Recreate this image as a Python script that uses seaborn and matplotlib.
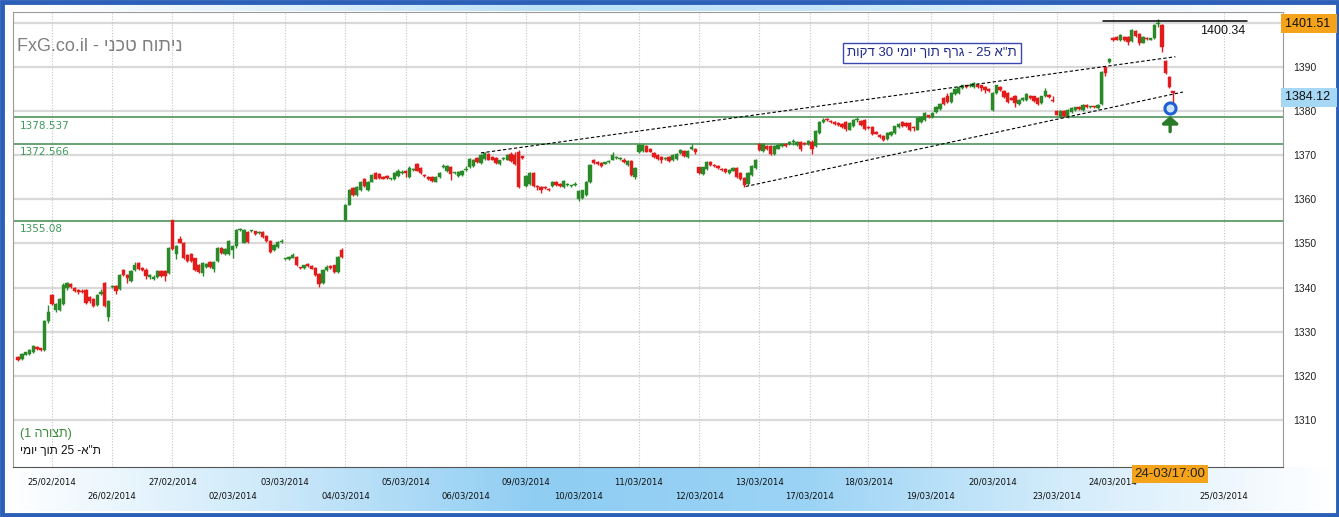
import re
import numpy as np
import matplotlib
matplotlib.use("Agg")
import matplotlib.pyplot as plt
import matplotlib.transforms as mtrans
from matplotlib.colors import LinearSegmentedColormap
from matplotlib.patches import Rectangle
import seaborn as sns

# 30-minute TA-25 candles (index = bar number)
opens = [
    1324.2, 1323.8, 1324.8, 1325.0, 1325.3, 1326.6, 1326.2, 1325.8, 1332.4, 1338.3,
    1334.8, 1335.0, 1336.2, 1339.8, 1340.8, 1339.9, 1339.4, 1339.3, 1339.4, 1337.8,
    1337.4, 1336.0, 1338.5, 1341.0, 1333.4, 1340.2, 1340.3, 1339.6, 1344.0, 1342.8,
    1341.5, 1344.0, 1345.6, 1344.4, 1344.0, 1342.4, 1342.0, 1342.4, 1343.8, 1343.8,
    1343.2, 1355.3, 1347.6, 1351.0, 1350.2, 1347.4, 1347.6, 1346.6, 1345.2, 1343.2,
    1344.6, 1345.7, 1344.2, 1346.0, 1349.0, 1347.6, 1347.6, 1348.5, 1349.3, 1353.0,
    1350.2, 1352.5, 1352.7, 1352.7, 1352.3, 1352.6, 1351.6, 1350.6, 1348.5, 1349.2,
    1350.4, 1346.4, 1346.4, 1346.8, 1347.0, 1344.5, 1344.4, 1345.3, 1344.9, 1344.5,
    1343.0, 1341.0, 1344.0, 1344.8, 1345.0, 1343.5, 1348.5, 1355.3, 1358.8, 1362.5,
    1361.0, 1362.0, 1364.6, 1362.0, 1364.0, 1366.0, 1365.7, 1365.1, 1365.2, 1364.5,
    1364.5, 1365.3, 1366.0, 1366.5, 1365.0, 1366.6, 1368.0, 1367.0, 1365.5, 1365.0,
    1365.0, 1364.0, 1365.0, 1367.3, 1366.3, 1367.3, 1365.9, 1365.2, 1365.5, 1366.6,
    1367.2, 1367.5, 1369.3, 1368.3, 1369.2, 1370.2, 1369.5, 1369.3, 1367.9, 1369.2,
    1369.0, 1370.2, 1370.0, 1370.8, 1369.7, 1363.0, 1363.5, 1366.0, 1363.0, 1362.8,
    1362.7, 1362.3, 1363.0, 1364.0, 1363.5, 1362.8, 1363.3, 1363.0, 1363.2, 1360.0,
    1360.2, 1361.0, 1363.8, 1369.0, 1368.5, 1368.3, 1368.1, 1368.4, 1369.0, 1369.4,
    1369.2, 1369.0, 1367.7, 1368.7, 1365.0, 1370.6, 1371.0, 1372.0, 1371.5, 1370.5,
    1370.0, 1369.6, 1369.1, 1369.5, 1368.8, 1369.2, 1370.5, 1371.0, 1369.5, 1371.4,
    1371.5, 1367.2, 1365.8, 1366.8, 1368.5, 1367.8, 1367.5, 1366.9, 1366.8, 1366.0,
    1366.5, 1367.0, 1366.0, 1364.8, 1363.5, 1365.5, 1367.0, 1372.5, 1371.0, 1372.0,
    1372.0, 1370.2, 1371.5, 1372.0, 1372.6, 1372.5, 1373.0, 1372.3, 1373.0, 1372.8,
    1372.5, 1373.0, 1372.0, 1375.0, 1377.5, 1378.2, 1377.8, 1377.5, 1377.3, 1377.0,
    1377.5, 1375.8, 1376.5, 1377.9, 1377.8, 1378.0, 1376.4, 1376.3, 1375.2, 1374.5,
    1374.3, 1373.7, 1374.5, 1375.0, 1376.3, 1377.5, 1377.3, 1377.3, 1376.4, 1375.8,
    1377.5, 1378.0, 1379.0, 1378.7, 1379.7, 1380.5, 1383.0, 1383.5, 1382.0, 1383.8,
    1384.0, 1385.2, 1385.8, 1385.7, 1385.5, 1386.0, 1385.8, 1385.5, 1385.0, 1380.2,
    1384.0, 1385.5, 1384.5, 1384.0, 1383.0, 1383.5, 1381.5, 1382.5, 1382.5, 1383.5,
    1383.3, 1383.0, 1381.8, 1383.3, 1383.6, 1382.6, 1380.0, 1378.7, 1380.0, 1378.8,
    1379.8, 1380.3, 1381.0, 1380.2, 1381.3, 1380.9, 1381.0, 1380.7, 1381.5, 1390.0,
    1391.0, 1396.5, 1396.8, 1396.0, 1396.8, 1396.7, 1395.8, 1398.2, 1397.5, 1395.5,
    1396.5, 1396.2, 1396.5, 1399.8, 1399.4, 1391.3, 1387.8, 1384.5,
]
closes = [
    1323.6, 1325.0, 1325.3, 1325.8, 1326.8, 1326.0, 1325.8, 1332.4, 1334.5, 1336.2,
    1336.3, 1337.3, 1340.6, 1341.0, 1340.2, 1339.2, 1338.9, 1339.0, 1336.5, 1336.9,
    1335.8, 1338.3, 1339.0, 1335.8, 1337.0, 1340.3, 1339.2, 1342.8, 1342.9, 1342.2,
    1343.8, 1345.0, 1344.2, 1344.0, 1342.6, 1342.8, 1342.3, 1343.8, 1342.5, 1342.6,
    1349.0, 1348.7, 1349.4, 1350.2, 1346.6, 1346.0, 1346.0, 1344.0, 1343.6, 1345.6,
    1345.4, 1344.6, 1345.8, 1349.0, 1347.8, 1348.7, 1350.5, 1349.3, 1353.0, 1353.3,
    1353.0, 1350.3, 1352.9, 1352.2, 1352.5, 1351.4, 1350.5, 1348.0, 1349.6, 1350.3,
    1350.6, 1346.6, 1347.0, 1347.3, 1345.0, 1344.4, 1345.0, 1344.8, 1344.3, 1342.8,
    1340.9, 1344.0, 1344.7, 1344.4, 1343.5, 1347.0, 1347.0, 1358.8, 1362.0, 1361.0,
    1362.8, 1364.0, 1363.0, 1364.0, 1365.5, 1364.7, 1364.9, 1364.7, 1364.9, 1364.6,
    1366.0, 1366.3, 1366.1, 1366.0, 1367.0, 1366.8, 1366.5, 1366.0, 1365.2, 1364.5,
    1364.2, 1365.0, 1366.0, 1367.5, 1367.5, 1365.8, 1366.0, 1366.2, 1366.5, 1366.8,
    1369.2, 1369.0, 1368.5, 1370.0, 1370.5, 1369.0, 1369.0, 1368.3, 1368.8, 1369.3,
    1370.0, 1368.6, 1367.9, 1362.7, 1369.4, 1365.3, 1366.0, 1363.0, 1362.7, 1362.2,
    1362.5, 1362.1, 1364.0, 1363.3, 1363.0, 1364.2, 1363.5, 1363.1, 1363.4, 1361.9,
    1362.0, 1364.0, 1367.8, 1368.3, 1368.0, 1367.6, 1368.3, 1368.6, 1370.0, 1369.6,
    1369.4, 1368.5, 1368.7, 1365.5, 1367.0, 1372.4, 1372.4, 1370.8, 1370.8, 1369.5,
    1369.1, 1368.8, 1369.3, 1368.6, 1370.0, 1370.3, 1371.2, 1369.7, 1371.0, 1371.8,
    1370.6, 1366.0, 1367.2, 1368.5, 1367.8, 1367.5, 1367.0, 1366.7, 1366.2, 1366.6,
    1367.0, 1365.0, 1364.5, 1363.2, 1366.0, 1367.5, 1369.0, 1371.2, 1372.5, 1371.3,
    1370.2, 1372.0, 1372.3, 1372.5, 1372.0, 1373.0, 1373.2, 1373.0, 1371.5, 1372.6,
    1373.3, 1371.5, 1375.5, 1377.5, 1378.0, 1377.9, 1377.4, 1377.1, 1376.9, 1376.3,
    1376.0, 1377.3, 1378.0, 1378.1, 1376.8, 1376.0, 1376.1, 1374.8, 1374.9, 1374.0,
    1373.5, 1375.0, 1375.3, 1376.5, 1377.0, 1376.5, 1376.5, 1375.7, 1376.1, 1378.5,
    1378.6, 1379.5, 1378.7, 1379.5, 1381.0, 1381.6, 1381.5, 1382.0, 1384.0, 1385.0,
    1385.5, 1385.8, 1385.4, 1385.9, 1386.3, 1385.5, 1385.2, 1384.8, 1384.6, 1384.0,
    1385.8, 1384.8, 1383.2, 1382.0, 1382.6, 1381.8, 1382.6, 1383.0, 1383.8, 1383.0,
    1382.3, 1381.5, 1383.3, 1384.5, 1383.2, 1382.3, 1379.2, 1380.0, 1378.8, 1380.2,
    1380.7, 1380.8, 1380.4, 1381.3, 1380.8, 1381.0, 1380.8, 1381.3, 1388.8, 1388.6,
    1391.8, 1396.0, 1396.2, 1397.2, 1396.0, 1395.6, 1398.3, 1397.0, 1395.5, 1396.8,
    1396.3, 1396.4, 1399.5, 1400.0, 1394.5, 1388.5, 1385.5, 1384.1,
]
highs = [
    1324.4, 1325.2, 1325.5, 1326.0, 1327.0, 1326.8, 1326.4, 1332.6, 1336.0, 1338.5,
    1336.6, 1337.6, 1341.0, 1341.2, 1341.0, 1340.1, 1339.6, 1339.6, 1339.7, 1338.0,
    1337.6, 1338.5, 1339.6, 1341.2, 1337.2, 1340.6, 1340.5, 1343.0, 1344.2, 1343.0,
    1344.0, 1345.8, 1345.8, 1344.6, 1344.4, 1343.0, 1342.8, 1344.0, 1344.0, 1344.0,
    1349.2, 1355.4, 1349.6, 1351.6, 1350.4, 1347.6, 1347.8, 1346.8, 1345.4, 1345.8,
    1345.6, 1345.9, 1346.0, 1349.2, 1349.2, 1349.0, 1350.7, 1349.6, 1353.2, 1353.6,
    1353.2, 1352.7, 1353.1, 1352.9, 1352.8, 1352.8, 1351.8, 1350.8, 1349.8, 1350.5,
    1350.9, 1346.8, 1347.2, 1347.8, 1347.2, 1344.6, 1345.2, 1345.5, 1345.1, 1344.7,
    1343.2, 1344.2, 1345.0, 1345.0, 1345.2, 1347.2, 1349.0, 1359.0, 1362.3, 1362.8,
    1363.0, 1364.2, 1364.8, 1364.2, 1365.7, 1366.2, 1365.9, 1365.3, 1365.4, 1364.8,
    1366.2, 1366.8, 1366.6, 1366.7, 1367.5, 1367.0, 1368.2, 1367.2, 1365.7, 1365.2,
    1365.2, 1365.2, 1366.2, 1368.0, 1367.7, 1367.5, 1366.2, 1366.4, 1366.7, 1367.6,
    1369.4, 1369.2, 1369.5, 1370.2, 1370.7, 1370.4, 1369.7, 1369.5, 1369.0, 1369.5,
    1370.2, 1370.6, 1370.6, 1371.2, 1369.9, 1365.5, 1366.2, 1366.2, 1363.2, 1363.0,
    1362.9, 1362.5, 1364.2, 1364.2, 1363.7, 1364.4, 1363.7, 1363.3, 1363.8, 1362.1,
    1362.2, 1364.2, 1368.0, 1369.2, 1368.7, 1368.5, 1368.5, 1368.8, 1370.6, 1369.8,
    1369.6, 1369.4, 1368.9, 1368.9, 1367.2, 1372.6, 1372.6, 1372.2, 1371.7, 1370.7,
    1370.2, 1369.8, 1369.5, 1369.7, 1370.2, 1370.5, 1371.4, 1371.2, 1371.2, 1372.6,
    1371.7, 1367.4, 1367.4, 1368.7, 1368.7, 1368.0, 1367.7, 1367.1, 1367.0, 1366.8,
    1367.2, 1367.2, 1366.2, 1365.0, 1366.2, 1367.7, 1369.2, 1372.7, 1372.7, 1372.2,
    1372.2, 1372.2, 1372.5, 1372.7, 1372.8, 1373.2, 1373.7, 1373.2, 1373.2, 1373.0,
    1373.5, 1373.5, 1375.7, 1377.7, 1378.3, 1378.4, 1378.0, 1377.7, 1377.5, 1377.2,
    1377.7, 1377.5, 1378.2, 1378.6, 1378.0, 1378.2, 1376.6, 1376.5, 1375.4, 1374.7,
    1374.5, 1375.2, 1375.5, 1376.7, 1377.2, 1377.7, 1377.5, 1377.5, 1376.6, 1378.7,
    1378.8, 1379.7, 1379.2, 1379.8, 1381.2, 1381.8, 1383.2, 1384.0, 1384.2, 1385.2,
    1385.7, 1386.0, 1386.0, 1386.3, 1386.5, 1386.4, 1386.0, 1385.7, 1385.2, 1384.2,
    1386.0, 1385.7, 1384.7, 1384.2, 1383.2, 1383.7, 1382.8, 1383.2, 1384.0, 1383.7,
    1383.5, 1383.2, 1383.5, 1385.3, 1383.8, 1383.5, 1380.2, 1380.2, 1380.2, 1380.4,
    1380.9, 1381.0, 1381.2, 1381.5, 1381.5, 1381.2, 1381.2, 1381.5, 1389.0, 1390.3,
    1392.0, 1396.7, 1397.0, 1397.4, 1397.0, 1396.9, 1398.5, 1398.4, 1397.7, 1397.0,
    1396.7, 1396.6, 1399.7, 1400.9, 1399.6, 1391.5, 1388.0, 1384.6,
]
lows = [
    1323.3, 1323.6, 1324.6, 1324.8, 1325.2, 1325.8, 1325.6, 1325.6, 1332.0, 1336.0,
    1334.5, 1334.7, 1336.0, 1339.5, 1340.0, 1339.0, 1338.6, 1338.8, 1336.3, 1336.6,
    1335.5, 1335.8, 1338.3, 1335.5, 1332.4, 1340.0, 1338.6, 1339.4, 1342.7, 1341.0,
    1341.3, 1343.8, 1344.0, 1343.8, 1342.0, 1342.0, 1341.8, 1342.2, 1342.3, 1341.5,
    1343.0, 1348.5, 1346.5, 1350.0, 1346.4, 1345.8, 1345.8, 1343.8, 1343.4, 1342.5,
    1344.4, 1344.4, 1343.5, 1345.8, 1347.6, 1347.4, 1347.4, 1346.8, 1349.0, 1352.8,
    1350.0, 1350.1, 1352.5, 1352.0, 1352.1, 1351.2, 1350.3, 1347.8, 1348.3, 1349.0,
    1350.2, 1346.2, 1346.2, 1346.6, 1344.8, 1344.2, 1344.2, 1344.6, 1344.1, 1342.6,
    1340.2, 1340.8, 1343.8, 1344.2, 1343.3, 1343.3, 1346.8, 1355.1, 1358.6, 1360.8,
    1360.8, 1361.8, 1362.8, 1361.8, 1363.8, 1364.5, 1364.7, 1364.5, 1364.7, 1364.3,
    1364.3, 1365.1, 1365.8, 1365.0, 1364.8, 1366.4, 1366.3, 1365.8, 1365.0, 1364.3,
    1364.0, 1363.8, 1364.8, 1367.0, 1366.1, 1364.4, 1365.7, 1365.0, 1365.3, 1366.4,
    1367.0, 1367.3, 1368.3, 1368.1, 1369.0, 1368.8, 1368.8, 1368.1, 1367.7, 1369.0,
    1368.8, 1368.4, 1367.7, 1362.5, 1369.2, 1362.8, 1363.3, 1362.8, 1362.0, 1361.5,
    1362.3, 1361.9, 1362.8, 1363.1, 1362.8, 1362.6, 1363.1, 1362.8, 1363.0, 1359.6,
    1360.0, 1360.8, 1363.6, 1368.1, 1367.8, 1367.2, 1367.9, 1368.2, 1368.8, 1369.2,
    1369.0, 1368.3, 1367.5, 1365.3, 1364.5, 1370.4, 1370.8, 1370.6, 1370.6, 1369.3,
    1368.9, 1368.2, 1368.9, 1368.4, 1368.6, 1369.0, 1370.3, 1369.5, 1369.3, 1371.2,
    1370.2, 1365.8, 1365.6, 1366.6, 1367.6, 1367.3, 1366.8, 1366.5, 1366.0, 1365.8,
    1366.3, 1364.8, 1364.3, 1362.8, 1363.3, 1365.3, 1366.8, 1371.0, 1370.8, 1371.1,
    1370.0, 1370.0, 1371.3, 1371.8, 1371.8, 1372.3, 1372.2, 1372.1, 1371.0, 1372.4,
    1372.3, 1370.2, 1371.8, 1374.8, 1377.3, 1377.7, 1377.2, 1376.9, 1376.7, 1376.1,
    1375.5, 1375.6, 1376.3, 1377.5, 1376.6, 1375.8, 1375.9, 1374.6, 1374.7, 1373.8,
    1373.3, 1373.5, 1374.3, 1374.8, 1376.1, 1376.3, 1376.3, 1375.5, 1375.5, 1375.6,
    1377.3, 1377.8, 1378.5, 1378.5, 1379.5, 1380.3, 1381.3, 1381.8, 1381.8, 1383.6,
    1383.8, 1385.0, 1385.2, 1385.5, 1385.3, 1385.3, 1384.6, 1384.0, 1384.4, 1380.0,
    1383.8, 1384.6, 1383.0, 1381.8, 1382.4, 1381.0, 1381.3, 1382.3, 1382.3, 1382.8,
    1382.1, 1381.3, 1381.6, 1383.1, 1383.0, 1382.1, 1379.0, 1378.5, 1378.6, 1378.3,
    1379.6, 1380.1, 1380.2, 1380.0, 1380.6, 1380.7, 1380.6, 1380.5, 1381.3, 1388.0,
    1390.8, 1395.8, 1396.0, 1395.8, 1395.8, 1395.0, 1395.6, 1396.8, 1395.0, 1395.3,
    1396.1, 1396.0, 1396.3, 1399.0, 1393.3, 1388.3, 1385.3, 1381.5,
]

# date axis: first bar of each session
date_labels = ["25/02/2014", "26/02/2014", "27/02/2014", "02/03/2014", "03/03/2014",
               "04/03/2014", "05/03/2014", "06/03/2014", "09/03/2014", "10/03/2014",
               "11/03/2014", "12/03/2014", "13/03/2014", "17/03/2014", "18/03/2014",
               "19/03/2014", "20/03/2014", "23/03/2014", "24/03/2014", "25/03/2014"]
date_bars = [9, 25, 41, 57.2, 71, 87, 103, 119, 135, 149,
             165, 181, 197, 210.4, 226, 242.6, 259, 276, 291, 320.5]

# support / resistance levels and trend channel
levels = ["1378.537", "1372.566", "1355.08"]
upper_channel_x = [123, 307.6]
upper_channel_y = [1370.5, 1392.3]
lower_channel_x = [193.4, 309.6]
lower_channel_y = [1362.9, 1384.3]
top_line_x = [288.3, 326.6]
top_line_y = 1400.34
last_price = 1384.12
high_price = 1401.51
marker_bar, marker_price = 306.2, 1380.7

title_he = "ניתוח טכני"
box_he = 'ת"א 25 - גרף תוך יומי 30 דקות'
legend_line1 = "(תצורה 1)"
legend_line2 = 'ת"א- 25 תוך יומי'


def rtl(s):
    # matplotlib has no bidi: flip to visual order, keep numbers/latin runs LTR
    r = s[::-1]
    r = re.sub(r"[0-9A-Za-z.:]+", lambda m: m.group(0)[::-1], r)
    return r.translate(str.maketrans("()", ")("))


sns.set_theme(style="white")
plt.rcParams["font.family"] = ["Liberation Sans", "DejaVu Sans"]

W, H = 1339, 517
fig = plt.figure(figsize=(W / 100, H / 100), dpi=100)

# frame + gradient bands, in pixel coordinates
bg = fig.add_axes([0, 0, 1, 1], zorder=-5)
bg.set_xlim(0, W)
bg.set_ylim(H, 0)
bg.axis("off")
band = LinearSegmentedColormap.from_list(
    "band", ["#ffffff", "#cde9fa", "#8fcdf3", "#9ad3f5", "#d4ecfb", "#ffffff"])
grad = np.linspace(0, 1, 400)[None, :]
bg.imshow(grad, cmap=band, extent=(3, W - 3, 511, 467), aspect="auto")
bg.imshow(grad, cmap=band, extent=(3, W - 3, 11, 3), aspect="auto", alpha=0.6)
bg.add_patch(Rectangle((1.5, 1.5), W - 3, H - 4, fill=False, ec="#2b5fb8", lw=3.5))

L, R, T, B = 13.3, 1283, 11.7, 466.7
ax = fig.add_axes([L / W, 1 - B / H, (R - L) / W, (B - T) / H])
ax.set_facecolor("white")

x = np.arange(len(closes))
o = np.array(opens)
c = np.array(closes)
up = c >= o
col = np.where(up, "#2a8a2a", "#e31b1b")
body_lo = np.minimum(o, c)
body_h = np.maximum(np.abs(c - o), 0.25)

ax.vlines(x, lows, highs, color=col, lw=1.0, zorder=3)
ax.bar(x, body_h, bottom=body_lo, width=0.88, color=col, edgecolor=col,
       linewidth=0.3, zorder=4)

# grid
ax.set_ylim(1299.4, 1402.5)
ax.set_xlim(-1.29, 336.2)
yt = np.arange(1310, 1401, 10)
for v in yt:
    ax.axhline(v, color="#d9d9d9", lw=1.6, zorder=0)
for b in date_bars:
    ax.axvline(b, color="#c4c4c4", lw=0.8, ls=(0, (1, 1.5)), zorder=0)

# levels
for lv in levels:
    ax.axhline(float(lv), color="#3f8a4c", lw=1.1, zorder=2)
    ax.text(0.4, float(lv) - 0.7, lv, color="#3f9a5a", fontsize=7.5,
            family="DejaVu Sans", va="top", ha="left", zorder=6)

# channel
chan = [(upper_channel_x, upper_channel_y), (lower_channel_x, lower_channel_y)]
for cx, cy in chan:
    sns.lineplot(x=cx, y=cy, ax=ax, color="black", lw=0.8,
                 linestyle=(0, (3, 2)), zorder=5)

ax.plot(top_line_x, [top_line_y, top_line_y], color="black", lw=1.1, zorder=5)
ax.text(top_line_x[1] - 0.5, top_line_y - 0.9, f"{top_line_y:.2f}", ha="right",
        va="top", fontsize=9, color="#111111", zorder=6)

# signal marker + arrow
ax.annotate("", xy=(marker_bar, marker_price - 1.2), xytext=(marker_bar, marker_price - 6.0),
            arrowprops=dict(arrowstyle="-|>,head_width=0.4,head_length=0.35",
                            color="#2a7a2a", lw=2.4), zorder=7)
ax.plot([marker_bar], [marker_price], "o", ms=8, mfc="#cfe4ff", mec="#1f5fd6",
        mew=2.2, zorder=8)

# axes styling
ax.yaxis.tick_right()
ax.set_yticks(yt)
# the 1400 label sits under the orange price box
ax.set_yticklabels([str(v) if v != 1400 else "" for v in yt])
ax.tick_params(axis="y", length=0, pad=7, labelsize=7.5, labelcolor="#222222")
ax.set_xticks(date_bars)
ax.set_xticklabels([lab if i % 2 == 0 else "\n" + lab for i, lab in enumerate(date_labels)],
                   family="DejaVu Sans", fontsize=6.1, color="#111111", linespacing=1.6)
ax.tick_params(axis="x", direction="out", length=5, width=2, color="#333333", pad=3)
ax.grid(False)
for side, sp in ax.spines.items():
    sp.set_color("#9a9a9a")
    sp.set_linewidth(0.8)
ax.spines["bottom"].set_color("#555555")

# price boxes on the right axis
blend = mtrans.blended_transform_factory(ax.transAxes, ax.transData)
ax.text(1.0015, 1399.8, f"{high_price:.2f} ", transform=blend, fontsize=9,
        va="center", ha="left", color="#111111", zorder=9,
        bbox=dict(boxstyle="square,pad=0.3", fc="#f5a31a", ec="none"))
ax.text(1.0015, 1383.1, f"{last_price:.2f} ", transform=blend, fontsize=9,
        va="center", ha="left", color="#111111", zorder=9,
        bbox=dict(boxstyle="square,pad=0.3", fc="#a6d8f5", ec="none"))

# time box under the last bar
ax.annotate("24-03/17:00", xy=(marker_bar, 0), xycoords=("data", "axes fraction"),
            xytext=(0, -1), textcoords="offset points", ha="center", va="top",
            fontsize=9.5, color="#222222", zorder=9, annotation_clip=False,
            bbox=dict(boxstyle="square,pad=0.2", fc="#f5a31a", ec="none"))

# titles / captions
ax.text(0.0027, 0.9246, "FxG.co.il - " + rtl(title_he), transform=ax.transAxes,
        fontsize=13, color="#7f7f7f", va="center", ha="left")
ax.text(0.7236, 0.909, rtl(box_he), transform=ax.transAxes, fontsize=9.5,
        color="#1e2a8a", va="center", ha="center", zorder=9,
        bbox=dict(boxstyle="square,pad=0.3", fc="white", ec="#3a48b0", lw=1))
ax.text(0.005, 0.072, rtl(legend_line1), transform=ax.transAxes, fontsize=9,
        color="#3a8a3a", va="center", ha="left")
ax.text(0.005, 0.034, rtl(legend_line2), transform=ax.transAxes, fontsize=8.5,
        color="#111111", va="center", ha="left")

fig.savefig("out.png", dpi=100)
